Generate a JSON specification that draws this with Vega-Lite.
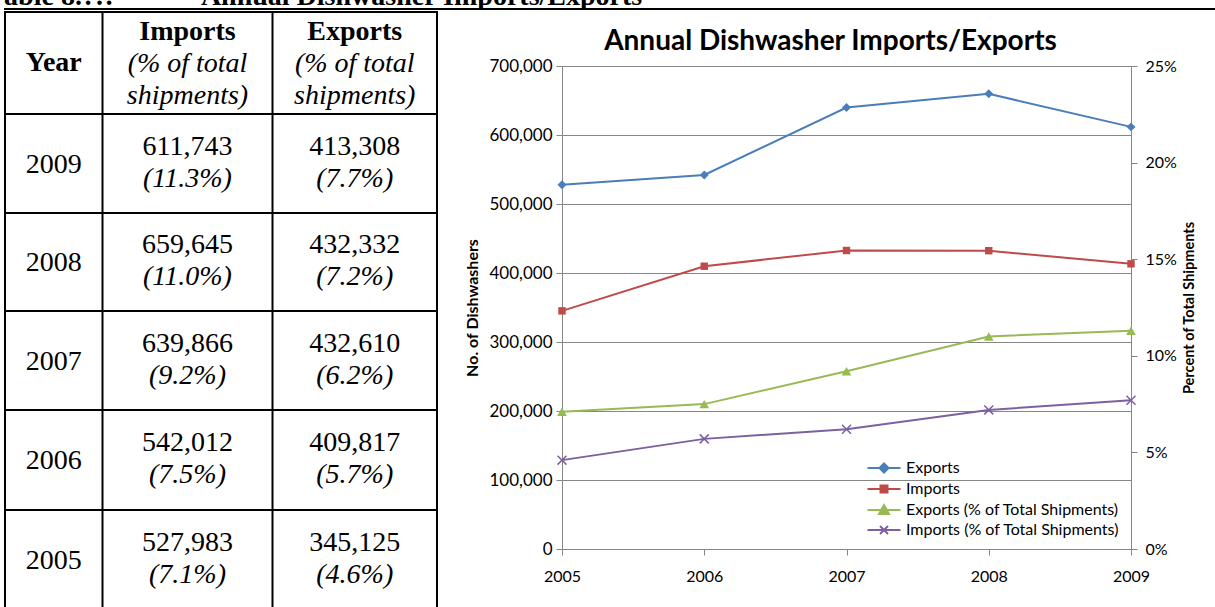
{
  "$schema": "https://vega.github.io/schema/vega-lite/v6.json",
  "padding": {"left": 3, "top": 0, "right": 0, "bottom": 0},
  "background": "white",
  "config": {"view": {"stroke": null}},
  "datasets": {
    "caption": [{"caption": "Table 8.?.?\u00a0\u00a0\u00a0\u00a0\u00a0\u00a0\u00a0\u00a0\u00a0\u00a0\u00a0\u00a0Annual Dishwasher Imports/Exports"}],
    "colEdges": [{"edge": 0.5}, {"edge": 1.5}, {"edge": 2.5}, {"edge": 3.5}],
    "rowEdges": [{"edge": -0.5}, {"edge": 0.5}, {"edge": 1.5}, {"edge": 2.5}, {"edge": 3.5}, {"edge": 4.5}],
    "header": [
      {"row": 0, "col": 1, "head": "Year", "sub1": "", "sub2": ""},
      {"row": 0, "col": 2, "head": "Imports", "sub1": "(% of total", "sub2": "shipments)"},
      {"row": 0, "col": 3, "head": "Exports", "sub1": "(% of total", "sub2": "shipments)"}
    ],
    "table": [
      {"row": 1, "year": "2009", "imp": "611,743", "impPct": "(11.3%)", "exp": "413,308", "expPct": "(7.7%)"},
      {"row": 2, "year": "2008", "imp": "659,645", "impPct": "(11.0%)", "exp": "432,332", "expPct": "(7.2%)"},
      {"row": 3, "year": "2007", "imp": "639,866", "impPct": "(9.2%)", "exp": "432,610", "expPct": "(6.2%)"},
      {"row": 4, "year": "2006", "imp": "542,012", "impPct": "(7.5%)", "exp": "409,817", "expPct": "(5.7%)"},
      {"row": 5, "year": "2005", "imp": "527,983", "impPct": "(7.1%)", "exp": "345,125", "expPct": "(4.6%)"}
    ],
    "series": [
      {"year": 2005, "series": "Exports", "unit": "count", "value": 527983},
      {"year": 2006, "series": "Exports", "unit": "count", "value": 542012},
      {"year": 2007, "series": "Exports", "unit": "count", "value": 639866},
      {"year": 2008, "series": "Exports", "unit": "count", "value": 659645},
      {"year": 2009, "series": "Exports", "unit": "count", "value": 611743},
      {"year": 2005, "series": "Imports", "unit": "count", "value": 345125},
      {"year": 2006, "series": "Imports", "unit": "count", "value": 409817},
      {"year": 2007, "series": "Imports", "unit": "count", "value": 432610},
      {"year": 2008, "series": "Imports", "unit": "count", "value": 432332},
      {"year": 2009, "series": "Imports", "unit": "count", "value": 413308},
      {"year": 2005, "series": "Exports (% of Total Shipments)", "unit": "share", "value": 0.071},
      {"year": 2006, "series": "Exports (% of Total Shipments)", "unit": "share", "value": 0.075},
      {"year": 2007, "series": "Exports (% of Total Shipments)", "unit": "share", "value": 0.092},
      {"year": 2008, "series": "Exports (% of Total Shipments)", "unit": "share", "value": 0.110},
      {"year": 2009, "series": "Exports (% of Total Shipments)", "unit": "share", "value": 0.113},
      {"year": 2005, "series": "Imports (% of Total Shipments)", "unit": "share", "value": 0.046},
      {"year": 2006, "series": "Imports (% of Total Shipments)", "unit": "share", "value": 0.057},
      {"year": 2007, "series": "Imports (% of Total Shipments)", "unit": "share", "value": 0.062},
      {"year": 2008, "series": "Imports (% of Total Shipments)", "unit": "share", "value": 0.072},
      {"year": 2009, "series": "Imports (% of Total Shipments)", "unit": "share", "value": 0.077}
    ]
  },
  "spacing": 0,
  "resolve": {"scale": {"color": "independent"}, "legend": {"color": "independent"}},
  "vconcat": [
    {
      "width": 1212,
      "height": 9,
      "data": {"name": "caption"},
      "layer": [
        {
          "mark": {"type": "text", "align": "left", "baseline": "alphabetic", "font": "Liberation Serif", "fontSize": 28, "fontWeight": "bold", "clip": true, "dx": -16, "dy": 0, "color": "black"},
          "encoding": {
            "x": {"datum": 0, "type": "quantitative", "scale": {"domain": [0, 1]}, "axis": null},
            "text": {"field": "caption"}
          }
        },
        {
          "mark": {"type": "rule", "strokeWidth": 2, "color": "black"},
          "encoding": {
            "x": {"datum": 0, "type": "quantitative"},
            "x2": {"datum": 1},
            "y": {"datum": 0, "type": "quantitative", "scale": {"domain": [0, 1]}, "axis": null}
          }
        }
      ]
    },
    {
      "spacing": 25,
      "resolve": {"scale": {"color": "independent"}, "legend": {"color": "independent"}},
      "hconcat": [
        {
          "width": 434,
          "height": 542,
          "layer": [
            {
              "data": {"name": "colEdges"},
              "mark": {"type": "rule", "strokeWidth": 2, "color": "black", "strokeCap": "square"},
              "encoding": {
                "x": {"field": "edge", "type": "quantitative",
                  "scale": {"domain": [0.5, 1.5, 2.5, 3.5], "range": [1, 98.5, 268.5, 433], "zero": false, "nice": false},
                  "axis": null},
                "y": {"datum": -0.5, "type": "quantitative",
                  "scale": {"domain": [-0.5, 0.5, 1.5, 2.5, 3.5, 4.5, 5.5], "range": [-54, 48, 147, 245, 344, 444, 543], "zero": false, "nice": false},
                  "axis": null},
                "y2": {"datum": 5.5}
              }
            },
            {
              "data": {"name": "rowEdges"},
              "mark": {"type": "rule", "strokeWidth": 2, "color": "black", "strokeCap": "square"},
              "encoding": {
                "y": {"field": "edge", "type": "quantitative"},
                "x": {"datum": 0.5, "type": "quantitative"},
                "x2": {"datum": 3.5}
              }
            },
            {
              "data": {"name": "table"},
              "mark": {"type": "text", "font": "Liberation Serif", "fontSize": 28, "baseline": "middle", "align": "center", "dy": 1, "color": "black"},
              "encoding": {"x": {"datum": 1, "type": "quantitative"}, "y": {"field": "row", "type": "quantitative"}, "text": {"field": "year"}}
            },
            {
              "data": {"name": "table"},
              "mark": {"type": "text", "font": "Liberation Serif", "fontSize": 28, "baseline": "middle", "align": "center", "dy": -17, "color": "black"},
              "encoding": {"x": {"datum": 2, "type": "quantitative"}, "y": {"field": "row", "type": "quantitative"}, "text": {"field": "imp"}}
            },
            {
              "data": {"name": "table"},
              "mark": {"type": "text", "font": "Liberation Serif", "fontSize": 28, "fontStyle": "italic", "baseline": "middle", "align": "center", "dy": 15, "color": "black"},
              "encoding": {"x": {"datum": 2, "type": "quantitative"}, "y": {"field": "row", "type": "quantitative"}, "text": {"field": "impPct"}}
            },
            {
              "data": {"name": "table"},
              "mark": {"type": "text", "font": "Liberation Serif", "fontSize": 28, "baseline": "middle", "align": "center", "dy": -17, "color": "black"},
              "encoding": {"x": {"datum": 3, "type": "quantitative"}, "y": {"field": "row", "type": "quantitative"}, "text": {"field": "exp"}}
            },
            {
              "data": {"name": "table"},
              "mark": {"type": "text", "font": "Liberation Serif", "fontSize": 28, "fontStyle": "italic", "baseline": "middle", "align": "center", "dy": 15, "color": "black"},
              "encoding": {"x": {"datum": 3, "type": "quantitative"}, "y": {"field": "row", "type": "quantitative"}, "text": {"field": "expPct"}}
            },
            {
              "data": {"name": "header"},
              "transform": [{"filter": "datum.col == 1"}],
              "mark": {"type": "text", "font": "Liberation Serif", "fontSize": 28, "fontWeight": "bold", "baseline": "middle", "align": "center", "dy": 0, "color": "black"},
              "encoding": {"x": {"field": "col", "type": "quantitative"}, "y": {"field": "row", "type": "quantitative"}, "text": {"field": "head"}}
            },
            {
              "data": {"name": "header"},
              "transform": [{"filter": "datum.col > 1"}],
              "mark": {"type": "text", "font": "Liberation Serif", "fontSize": 28, "fontWeight": "bold", "baseline": "middle", "align": "center", "dy": -31, "color": "black"},
              "encoding": {"x": {"field": "col", "type": "quantitative"}, "y": {"field": "row", "type": "quantitative"}, "text": {"field": "head"}}
            },
            {
              "data": {"name": "header"},
              "transform": [{"filter": "datum.col > 1"}],
              "mark": {"type": "text", "font": "Liberation Serif", "fontSize": 28, "fontStyle": "italic", "baseline": "middle", "align": "center", "dy": 1, "color": "black"},
              "encoding": {"x": {"field": "col", "type": "quantitative"}, "y": {"field": "row", "type": "quantitative"}, "text": {"field": "sub1"}}
            },
            {
              "data": {"name": "header"},
              "transform": [{"filter": "datum.col > 1"}],
              "mark": {"type": "text", "font": "Liberation Serif", "fontSize": 28, "fontStyle": "italic", "baseline": "middle", "align": "center", "dy": 33, "color": "black"},
              "encoding": {"x": {"field": "col", "type": "quantitative"}, "y": {"field": "row", "type": "quantitative"}, "text": {"field": "sub2"}}
            }
          ]
        },
        {
          "width": 569,
          "height": 483,
          "title": {"text": ["", "Annual Dishwasher Imports/Exports"], "font": "Lato", "fontSize": 28, "fontWeight": "bold", "color": "black", "lineHeight": 18, "offset": 1, "anchor": "middle", "frame": "group", "dx": -16},
          "data": {"name": "series"},
          "encoding": {
            "x": {"field": "year", "type": "quantitative",
              "scale": {"domain": [2005, 2009], "nice": false, "zero": false},
              "axis": {"values": [2005, 2006, 2007, 2008, 2009], "format": "d", "title": null, "grid": false, "labelFont": "Lato", "labelFontSize": 16, "labelColor": "black", "labelPadding": 13, "labelFlush": false, "tickSize": 6, "tickColor": "#868686", "domainColor": "#868686"}}
          },
          "layer": [
            {
              "transform": [{"filter": "datum.unit == 'count'"}],
              "encoding": {
                "y": {"field": "value", "type": "quantitative",
                  "scale": {"domain": [0, 700000], "nice": false},
                  "axis": {"values": [0, 100000, 200000, 300000, 400000, 500000, 600000, 700000], "format": ",.0f", "title": "No. of Dishwashers", "titleFont": "Lato", "titleFontSize": 16, "titleFontWeight": "bold", "titleColor": "black", "titlePadding": 8, "grid": true, "gridColor": "#868686", "gridOpacity": 1, "labelFont": "Lato", "labelFontSize": 17, "labelColor": "black", "labelPadding": 4, "tickSize": 6, "tickColor": "#868686", "domainColor": "#868686"}}
              },
              "layer": [
                {"mark": {"type": "line", "strokeWidth": 2},
                  "encoding": {
                    "color": {"field": "series", "type": "nominal",
                      "scale": {"domain": ["Exports", "Imports", "Exports (% of Total Shipments)", "Imports (% of Total Shipments)"], "range": ["#4A7EBB", "#BE4B48", "#98B954", "#7D60A0"]},
                      "legend": {"title": null, "orient": "bottom-right", "offset": 11, "padding": 0, "labelFont": "Lato", "labelFontSize": 16, "labelColor": "black", "labelLimit": 400, "symbolSize": 100, "labelOffset": 14, "rowPadding": 4, "symbolStrokeWidth": 2,
                        "encode": {"symbols": {"update": {
                          "shape": {"signal": "datum.value === 'Exports' ? 'M-3.3,0H3.3M0,-0.9L0.9,0L0,0.9L-0.9,0Z' : datum.value === 'Imports' ? 'M-3.3,0H3.3M-0.7,-0.7H0.7V0.7H-0.7Z' : datum.value === 'Exports (% of Total Shipments)' ? 'M-3.3,0H3.3M0,-1L1,0.8H-1Z' : 'M-3.3,0H3.3M-0.8,-0.8L0.8,0.8M-0.8,0.8L0.8,-0.8'"},
                          "fill": {"signal": "datum.value === 'Exports' ? '#4A7EBB' : datum.value === 'Imports' ? '#BE4B48' : datum.value === 'Exports (% of Total Shipments)' ? '#98B954' : '#7D60A0'"},
                          "stroke": {"signal": "datum.value === 'Exports' ? '#4A7EBB' : datum.value === 'Imports' ? '#BE4B48' : datum.value === 'Exports (% of Total Shipments)' ? '#98B954' : '#7D60A0'"},
                          "strokeWidth": {"value": 2},
                          "opacity": {"value": 1}
                        }}}}}
                  }},
                {"transform": [{"filter": "datum.series == 'Exports'"}],
                  "mark": {"type": "point", "shape": "diamond", "filled": true, "opacity": 1, "size": 80, "color": "#4A7EBB"}},
                {"transform": [{"filter": "datum.series == 'Imports'"}],
                  "mark": {"type": "point", "shape": "square", "filled": true, "opacity": 1, "size": 55, "color": "#BE4B48"}}
              ]
            },
            {
              "transform": [{"filter": "datum.unit == 'share'"}],
              "encoding": {
                "y": {"field": "value", "type": "quantitative",
                  "scale": {"domain": [0, 0.25], "nice": false},
                  "axis": {"orient": "right", "values": [0, 0.05, 0.1, 0.15, 0.2, 0.25], "format": ".0%", "title": "Percent of Total Shipments", "titleAngle": 270, "titleFont": "Lato", "titleFontSize": 14.5, "titleFontWeight": "bold", "titleColor": "black", "titlePadding": 20, "grid": false, "labelFont": "Lato", "labelFontSize": 16, "labelColor": "black", "labelPadding": 8, "tickSize": 6, "tickColor": "#868686", "domainColor": "#868686"}}
              },
              "layer": [
                {"mark": {"type": "line", "strokeWidth": 2},
                  "encoding": {
                    "color": {"field": "series", "type": "nominal",
                      "scale": {"domain": ["Exports", "Imports", "Exports (% of Total Shipments)", "Imports (% of Total Shipments)"], "range": ["#4A7EBB", "#BE4B48", "#98B954", "#7D60A0"]},
                      "legend": {"title": null, "orient": "bottom-right", "offset": 11, "padding": 0, "labelFont": "Lato", "labelFontSize": 16, "labelColor": "black", "labelLimit": 400, "symbolSize": 100, "labelOffset": 14, "rowPadding": 4, "symbolStrokeWidth": 2,
                        "encode": {"symbols": {"update": {
                          "shape": {"signal": "datum.value === 'Exports' ? 'M-3.3,0H3.3M0,-0.9L0.9,0L0,0.9L-0.9,0Z' : datum.value === 'Imports' ? 'M-3.3,0H3.3M-0.7,-0.7H0.7V0.7H-0.7Z' : datum.value === 'Exports (% of Total Shipments)' ? 'M-3.3,0H3.3M0,-1L1,0.8H-1Z' : 'M-3.3,0H3.3M-0.8,-0.8L0.8,0.8M-0.8,0.8L0.8,-0.8'"},
                          "fill": {"signal": "datum.value === 'Exports' ? '#4A7EBB' : datum.value === 'Imports' ? '#BE4B48' : datum.value === 'Exports (% of Total Shipments)' ? '#98B954' : '#7D60A0'"},
                          "stroke": {"signal": "datum.value === 'Exports' ? '#4A7EBB' : datum.value === 'Imports' ? '#BE4B48' : datum.value === 'Exports (% of Total Shipments)' ? '#98B954' : '#7D60A0'"},
                          "strokeWidth": {"value": 2},
                          "opacity": {"value": 1}
                        }}}}}
                  }},
                {"transform": [{"filter": "datum.series == 'Exports (% of Total Shipments)'"}],
                  "mark": {"type": "point", "shape": "triangle-up", "filled": true, "opacity": 1, "size": 95, "color": "#98B954"}},
                {"transform": [{"filter": "datum.series == 'Imports (% of Total Shipments)'"}],
                  "mark": {"type": "point", "shape": "M-1,-1L1,1M-1,1L1,-1", "filled": false, "opacity": 1, "size": 80, "strokeWidth": 1.5, "color": "#7D60A0"}}
              ]
            }
          ],
          "resolve": {"scale": {"y": "independent"}}
        }
      ]
    }
  ]
}
